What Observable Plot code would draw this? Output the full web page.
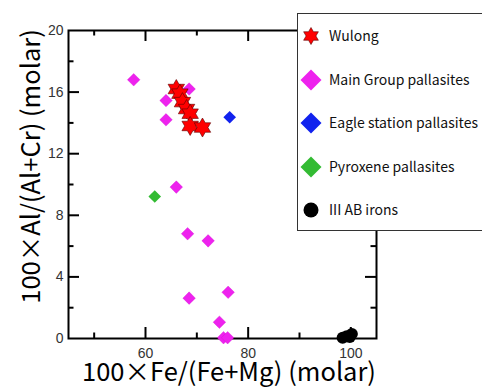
<!DOCTYPE html>
<html>
<head>
<meta charset="utf-8">
<script src="https://cdn.jsdelivr.net/npm/d3@7"></script>
<script src="https://cdn.jsdelivr.net/npm/@observablehq/plot@0.6"></script>
<style>
  html, body { margin: 0; padding: 0; background: #fff; }
  #wrap { position: relative; width: 482px; height: 387px; overflow: hidden; }
  #legend { position: absolute; left: 297px; top: 13px; width: 190px; height: 218px;
    border: 1px solid #333; background: #fff; box-sizing: border-box; }
  .row { position: relative; height: 43.6px; }
  .row svg { position: absolute; left: 0px; top: 9px; }
  .row span { position: absolute; left: 31px; top: 0; line-height: 43.6px;
    font-family: "Noto Sans CJK JP", sans-serif; font-size: 14px; color: #111; white-space: nowrap; }
</style>
</head>
<body>
<div id="wrap"></div>
<script>
// ---- data ----
const wulongX = [66.0, 66.7, 67.2, 68.0, 68.7, 68.7, 71.1];
const wulongY = [16.2, 15.9, 15.35, 14.9, 14.6, 13.8, 13.7];

const mainX = [57.7, 68.5, 64.0, 64.0, 66.0, 68.2, 72.2, 68.5, 76.1, 74.4, 75.2, 76.0];
const mainY = [16.8, 16.2, 15.45, 14.2, 9.83, 6.8, 6.34, 2.62, 3.0, 1.06, 0.05, 0.05];

const eagleX = [76.4];
const eagleY = [14.37];

const pyroxX = [61.8];
const pyroxY = [9.22];

const ironsX = [98.4, 99.2, 99.8, 100.2];
const ironsY = [0.05, 0.15, 0.1, 0.3];

const seriesNames = ["Wulong", "Main Group pallasites", "Eagle station pallasites", "Pyroxene pallasites", "III AB irons"];
const seriesColors = ["#ff0000", "#ee22ee", "#1122ee", "#33bb33", "#000000"];
const seriesShapes = ["star6", "diamond", "diamond", "diamond", "circle"];

const xMajor = [60, 80, 100];
const xMinor = [50, 70, 90];
const yMajor = [0, 4, 8, 12, 16, 20];
const yMinor = [2, 6, 10, 14, 18];

const xLabel = "100×Fe/(Fe+Mg) (molar)";
const yLabel = "100×Al/(Al+Cr) (molar)";

// ---- symbols ----
const star6 = {
  draw(ctx, size) {
    const r = Math.sqrt(size / Math.PI);
    const ri = r / Math.sqrt(3);
    for (let i = 0; i < 12; i++) {
      const a = -Math.PI / 2 + i * Math.PI / 6;
      const rr = i % 2 === 0 ? r : ri;
      const x = rr * Math.cos(a), y = rr * Math.sin(a);
      if (i === 0) ctx.moveTo(x, y); else ctx.lineTo(x, y);
    }
    ctx.closePath();
  }
};
const diamondSq = {
  draw(ctx, size) {
    const r = Math.sqrt(size / Math.PI);
    ctx.moveTo(0, -r); ctx.lineTo(r, 0); ctx.lineTo(0, r); ctx.lineTo(-r, 0); ctx.closePath();
  }
};
const symbolOf = {star6: star6, diamond: diamondSq, circle: d3.symbolCircle};

const toPts = (xs, ys) => xs.map((x, i) => ({x, y: ys[i]}));

// ---- geometry ----
const W = 482, H = 387, mL = 68, mR = 106, mT = 30, mB = 49;
const xDom = [45, 105], yDom = [0, 20];
const pw = W - mL - mR, ph = H - mT - mB;
const ux = (xDom[1] - xDom[0]) / pw; // data units per px
const uy = (yDom[1] - yDom[0]) / ph;
const majLen = 11, minLen = 5.5;

const tickStyle = {stroke: "#000", strokeWidth: 2};
const labelFont = "Noto Sans CJK JP, sans-serif";

const chart = Plot.plot({
  width: W, height: H,
  marginLeft: mL, marginRight: mR, marginTop: mT, marginBottom: mB,
  style: {fontFamily: "Liberation Sans, Arial, sans-serif", fontSize: "14px", color: "#333", background: "#fff"},
  x: {domain: xDom, label: null},
  y: {domain: yDom, label: null},
  marks: [
    Plot.axisX({ticks: xMajor, tickSize: 0, tickPadding: 10, anchor: "bottom", label: null, fontSize: 14}),
    Plot.axisY({ticks: yMajor, tickSize: 0, tickPadding: 5, anchor: "left", label: null, fontSize: 14}),
    // inward ticks
    Plot.ruleX(xMajor, {x: d => d, y1: yDom[0], y2: yDom[0] + majLen * uy, ...tickStyle}),
    Plot.ruleX(xMinor, {x: d => d, y1: yDom[0], y2: yDom[0] + minLen * uy, ...tickStyle}),
    Plot.ruleX(xMajor, {x: d => d, y1: yDom[1], y2: yDom[1] - majLen * uy, ...tickStyle}),
    Plot.ruleX(xMinor, {x: d => d, y1: yDom[1], y2: yDom[1] - minLen * uy, ...tickStyle}),
    Plot.ruleY(yMajor.slice(1, -1), {y: d => d, x1: xDom[0], x2: xDom[0] + majLen * ux, ...tickStyle}),
    Plot.ruleY(yMinor, {y: d => d, x1: xDom[0], x2: xDom[0] + minLen * ux, ...tickStyle}),
    Plot.ruleY(yMajor.slice(1, -1), {y: d => d, x1: xDom[1], x2: xDom[1] - majLen * ux, ...tickStyle}),
    Plot.ruleY(yMinor, {y: d => d, x1: xDom[1], x2: xDom[1] - minLen * ux, ...tickStyle}),
    Plot.frame({stroke: "#000", strokeWidth: 2}),
    // data
    Plot.dot(toPts(mainX, mainY), {x: "x", y: "y", symbol: diamondSq, r: 6.3, fill: seriesColors[1], stroke: "#cc00cc", strokeWidth: 0.3}),
    Plot.dot(toPts(eagleX, eagleY), {x: "x", y: "y", symbol: diamondSq, r: 6.3, fill: seriesColors[2]}),
    Plot.dot(toPts(pyroxX, pyroxY), {x: "x", y: "y", symbol: diamondSq, r: 6.3, fill: seriesColors[3]}),
    Plot.dot(toPts(ironsX, ironsY), {x: "x", y: "y", symbol: "circle", r: 6, fill: seriesColors[4]}),
    Plot.dot(toPts(wulongX, wulongY), {x: "x", y: "y", symbol: star6, r: 9.5, fill: seriesColors[0], stroke: "#5a0000", strokeWidth: 0.6}),
    // axis titles
    Plot.text([xLabel], {text: d => d, frameAnchor: "bottom", textAnchor: "middle", lineAnchor: "middle",
      dy: 34, dx: 6.5, fontSize: 25.5, fill: "#000", fontFamily: labelFont}),
    Plot.text([yLabel], {text: d => d, frameAnchor: "left", textAnchor: "middle", lineAnchor: "middle",
      rotate: -90, dx: -37, dy: -18, fontSize: 25.5, fill: "#000", fontFamily: labelFont})
  ]
});

const wrap = document.getElementById("wrap");
wrap.appendChild(chart);

// legend
const legend = document.createElement("div");
legend.id = "legend";
const legendR = [8.5, 10.5, 10.5, 10.5, 7.5];
seriesNames.forEach((name, i) => {
  const row = document.createElement("div");
  row.className = "row";
  const svg = d3.create("svg").attr("width", 26).attr("height", 26);
  const r = legendR[i];
  svg.append("path")
    .attr("transform", "translate(13,13)")
    .attr("d", d3.symbol(symbolOf[seriesShapes[i]], r * r * Math.PI)())
    .attr("fill", seriesColors[i])
    .attr("stroke", i === 0 ? "#5a0000" : "none")
    .attr("stroke-width", 0.6);
  row.appendChild(svg.node());
  const span = document.createElement("span");
  span.textContent = name;
  row.appendChild(span);
  legend.appendChild(row);
});
wrap.appendChild(legend);
</script>
</body>
</html>
